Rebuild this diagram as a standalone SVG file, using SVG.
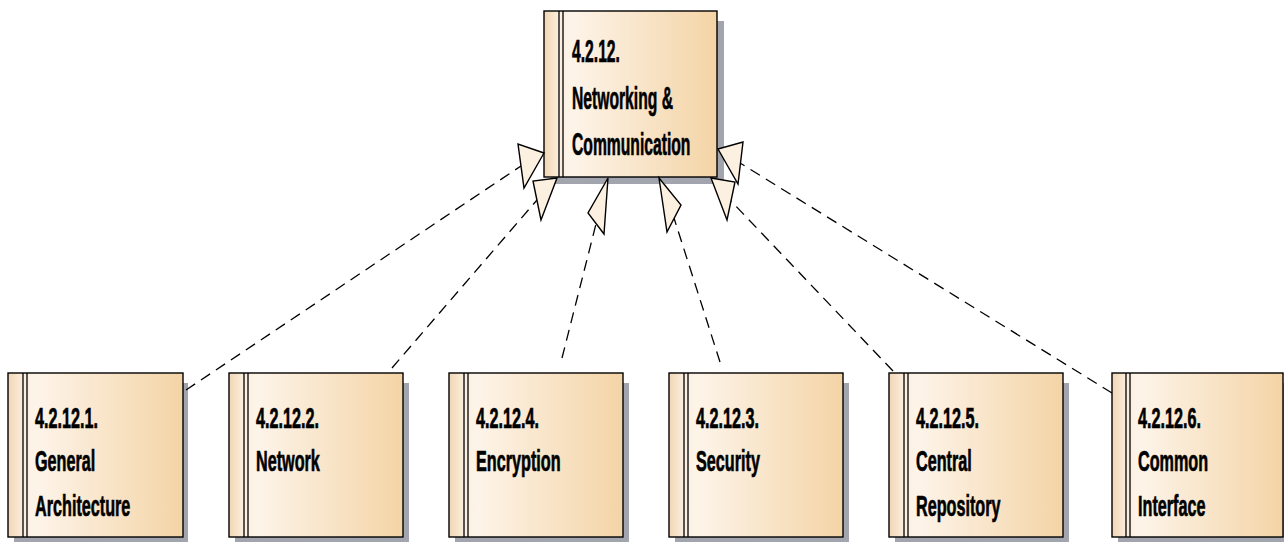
<svg xmlns="http://www.w3.org/2000/svg" width="1284" height="542" viewBox="0 0 1284 542">
  <defs>
    <linearGradient id="pkgFill" x1="0" y1="0" x2="1" y2="0">
      <stop offset="0" stop-color="#f1d6b4"/>
      <stop offset="0.09" stop-color="#fcefe0"/>
      <stop offset="0.16" stop-color="#fdf4e9"/>
      <stop offset="1" stop-color="#f4d4a6"/>
    </linearGradient>
  </defs>
  <style>
    .shadow { fill: #a2a5ad; }
    .box { fill: url(#pkgFill); stroke: #000; stroke-width: 1.4; }
    .bar { stroke: #000; stroke-width: 1.3; }
    .lbl { font-family: "Liberation Sans", Arial, sans-serif; font-weight: bold; fill: #000; stroke: #000; stroke-width: 0.7; }
    .big { font-size: 32px; }
    .small { font-size: 30px; }
    .dep { fill: none; stroke: #000; stroke-width: 1.3; stroke-dasharray: 11 7; }
    .head { fill: #fcf0e0; stroke: #000; stroke-width: 1.4; stroke-linejoin: miter; }
  </style>

  <rect width="1284" height="542" fill="#fff"/>

  <!-- parent package -->
  <g id="pkg-4-2-12">
    <rect class="shadow" x="551" y="21" width="173" height="163"/>
    <rect class="box" x="544" y="11" width="173" height="166"/>
    <line class="bar" x1="559" y1="11" x2="559" y2="177"/>
    <line class="bar" x1="563" y1="11" x2="563" y2="177"/>
    <text class="lbl big" transform="translate(572 62) scale(0.49 1)">
      <tspan x="0" y="0">4.2.12.</tspan>
      <tspan x="0" y="47">Networking &amp;</tspan>
      <tspan x="0" y="93">Communication</tspan>
    </text>
  </g>

  <!-- child packages -->
  <g id="pkg-4-2-12-1">
    <rect class="shadow" x="14" y="383" width="174" height="160"/>
    <rect class="box" x="8" y="373" width="175" height="164"/>
    <line class="bar" x1="23" y1="373" x2="23" y2="537"/>
    <line class="bar" x1="27" y1="373" x2="27" y2="537"/>
    <text class="lbl small" transform="translate(35 428) scale(0.54 1)">
      <tspan x="0" y="0">4.2.12.1.</tspan>
      <tspan x="0" y="43">General</tspan>
      <tspan x="0" y="88">Architecture</tspan>
    </text>
  </g>

  <g id="pkg-4-2-12-2">
    <rect class="shadow" x="235" y="383" width="174" height="160"/>
    <rect class="box" x="229" y="373" width="174" height="164"/>
    <line class="bar" x1="244" y1="373" x2="244" y2="537"/>
    <line class="bar" x1="248" y1="373" x2="248" y2="537"/>
    <text class="lbl small" transform="translate(256 428) scale(0.54 1)">
      <tspan x="0" y="0">4.2.12.2.</tspan>
      <tspan x="0" y="43">Network</tspan>
    </text>
  </g>

  <g id="pkg-4-2-12-4">
    <rect class="shadow" x="455" y="383" width="174" height="160"/>
    <rect class="box" x="449" y="373" width="174" height="164"/>
    <line class="bar" x1="464" y1="373" x2="464" y2="537"/>
    <line class="bar" x1="468" y1="373" x2="468" y2="537"/>
    <text class="lbl small" transform="translate(476 428) scale(0.54 1)">
      <tspan x="0" y="0">4.2.12.4.</tspan>
      <tspan x="0" y="43">Encryption</tspan>
    </text>
  </g>

  <g id="pkg-4-2-12-3">
    <rect class="shadow" x="675" y="383" width="174" height="160"/>
    <rect class="box" x="669" y="373" width="174" height="164"/>
    <line class="bar" x1="684" y1="373" x2="684" y2="537"/>
    <line class="bar" x1="688" y1="373" x2="688" y2="537"/>
    <text class="lbl small" transform="translate(696 428) scale(0.54 1)">
      <tspan x="0" y="0">4.2.12.3.</tspan>
      <tspan x="0" y="43">Security</tspan>
    </text>
  </g>

  <g id="pkg-4-2-12-5">
    <rect class="shadow" x="895" y="383" width="174" height="160"/>
    <rect class="box" x="889" y="373" width="174" height="164"/>
    <line class="bar" x1="904" y1="373" x2="904" y2="537"/>
    <line class="bar" x1="908" y1="373" x2="908" y2="537"/>
    <text class="lbl small" transform="translate(916 428) scale(0.54 1)">
      <tspan x="0" y="0">4.2.12.5.</tspan>
      <tspan x="0" y="43">Central</tspan>
      <tspan x="0" y="88">Repository</tspan>
    </text>
  </g>

  <g id="pkg-4-2-12-6">
    <rect class="shadow" x="1118" y="383" width="171" height="160"/>
    <rect class="box" x="1112" y="373" width="171" height="164"/>
    <line class="bar" x1="1126" y1="373" x2="1126" y2="537"/>
    <line class="bar" x1="1130" y1="373" x2="1130" y2="537"/>
    <text class="lbl small" transform="translate(1138 428) scale(0.54 1)">
      <tspan x="0" y="0">4.2.12.6.</tspan>
      <tspan x="0" y="43">Common</tspan>
      <tspan x="0" y="88">Interface</tspan>
    </text>
  </g>

  <!-- realization connectors: dashed lines with hollow triangle heads -->
  <g id="connectors">
    <line class="dep" x1="186" y1="390" x2="521" y2="166"/>
    <polygon class="head" points="544,153 518,144 524,188"/>

    <line class="dep" x1="392" y1="368" x2="537" y2="200"/>
    <polygon class="head" points="557,178 533,181 541,220"/>

    <line class="dep" x1="562" y1="358" x2="596" y2="224"/>
    <polygon class="head" points="608,178 588,213 604,234"/>

    <line class="dep" x1="720" y1="362" x2="674" y2="218"/>
    <polygon class="head" points="659,178 681,205 667,232"/>

    <line class="dep" x1="893" y1="371" x2="731" y2="201"/>
    <polygon class="head" points="711,178 735,182 727,220"/>

    <line class="dep" x1="1112" y1="393" x2="740" y2="163"/>
    <polygon class="head" points="718,149 743,142 738,184"/>
  </g>
</svg>
